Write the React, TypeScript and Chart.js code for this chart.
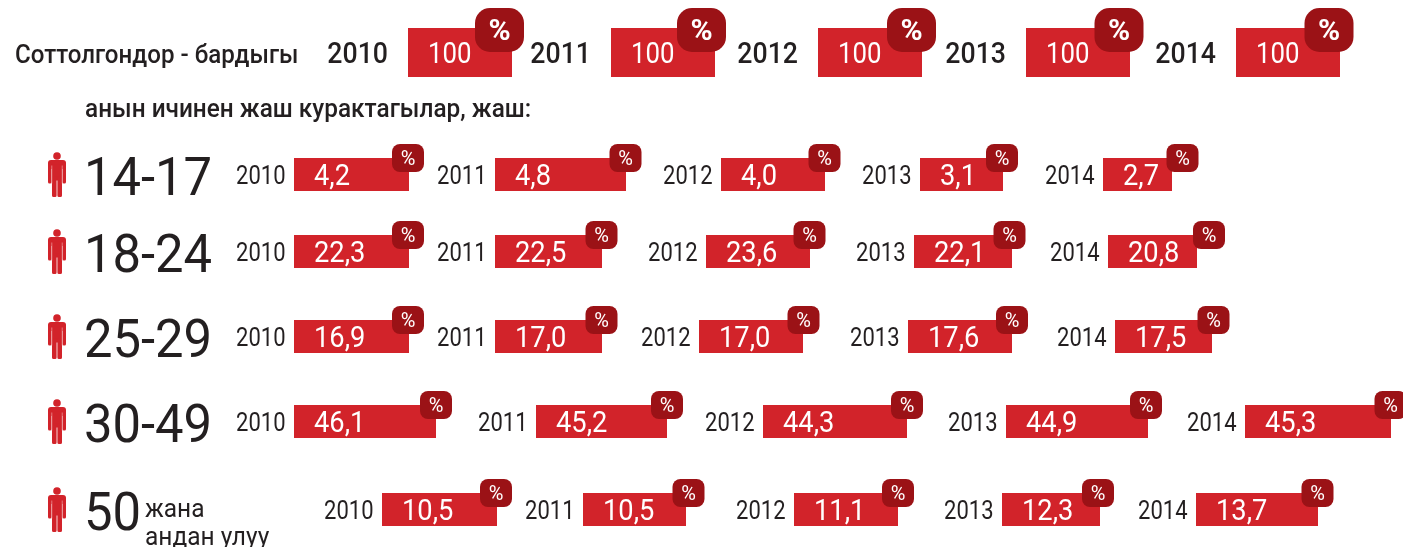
import React, { useEffect, useRef } from "react";
import { Chart, registerables } from "chart.js";

Chart.register(...registerables);

// ---- data ----
const years = ["2010", "2011", "2012", "2013", "2014"];
const totalValues = [100, 100, 100, 100, 100];
const age14to17 = [4.2, 4.8, 4.0, 3.1, 2.7];
const age18to24 = [22.3, 22.5, 23.6, 22.1, 20.8];
const age25to29 = [16.9, 17.0, 17.0, 17.6, 17.5];
const age30to49 = [46.1, 45.2, 44.3, 44.9, 45.3];
const age50plus = [10.5, 10.5, 11.1, 12.3, 13.7];
const ageLabels = ["14-17", "18-24", "25-29", "30-49", "50"];
const titleText = "Соттолгондор - бардыгы";
const subtitleText = "анын ичинен жаш курактагылар, жаш:";
const plusLines = ["жана", "андан улуу"];

// ---- extents of the drawn bars on the page-wide x axis (not proportional to value in the source) ----
const totalSpans = [[408, 512], [611, 715], [818, 922], [1026, 1130], [1236, 1340]];
const spans14to17 = [[294, 409], [495, 626], [721, 825], [920, 1003], [1103, 1172]];
const spans18to24 = [[294, 409], [495, 602], [706, 810], [914, 1012], [1108, 1197]];
const spans25to29 = [[294, 409], [495, 602], [699, 803], [908, 1012], [1115, 1212]];
const spans30to49 = [[294, 436], [536, 667], [763, 907], [1006, 1148], [1245, 1391]];
const spans50plus = [[382, 497], [583, 686], [794, 898], [1002, 1100], [1196, 1318]];

// ---- where each "%" badge is centred on the same axis ----
const totalBadges = [499.5, 701.5, 911.5, 1119, 1329];
const badges14to17 = [408, 625.5, 824.5, 1002, 1182.5];
const badges18to24 = [408, 601.5, 809.5, 1009.5, 1209];
const badges25to29 = [408, 601.5, 803.5, 1012, 1213.5];
const badges30to49 = [436, 667, 907, 1146, 1390.5];
const badges50plus = [496, 688.5, 898, 1098, 1317.5];

const rowCentres = [174.5, 251.5, 336.5, 421.5, 509.5];
const totalCentre = 52.5;

const RED = "#d2232a";
const DARK = "#9b1216";
const INK = "#231f20";
const FONT = "Roboto, sans-serif";

const rows = [
  { values: age14to17, spans: spans14to17, badges: badges14to17 },
  { values: age18to24, spans: spans18to24, badges: badges18to24 },
  { values: age25to29, spans: spans25to29, badges: badges25to29 },
  { values: age30to49, spans: spans30to49, badges: badges30to49 },
  { values: age50plus, spans: spans50plus, badges: badges50plus },
];

const fmt = (v: number) => v.toFixed(1).replace(".", ",");

function drawPerson(ctx: CanvasRenderingContext2D, cx: number, cy: number) {
  ctx.save();
  ctx.fillStyle = RED;
  ctx.beginPath();
  ctx.arc(cx, cy - 18.5, 3.8, 0, Math.PI * 2);
  ctx.fill();
  ctx.beginPath();
  ctx.roundRect(cx - 9, cy - 14.5, 18, 9, 3);
  ctx.fill();
  ctx.beginPath();
  ctx.roundRect(cx - 9, cy - 12, 3.5, 21, 1.5);
  ctx.roundRect(cx + 5.5, cy - 12, 3.5, 21, 1.5);
  ctx.fill();
  ctx.fillRect(cx - 5, cy - 10, 10, 16);
  ctx.beginPath();
  ctx.roundRect(cx - 5, cy + 2, 4.6, 20.5, 1.5);
  ctx.roundRect(cx + 0.4, cy + 2, 4.6, 20.5, 1.5);
  ctx.fill();
  ctx.fillStyle = "#ee9ea0";
  ctx.fillRect(cx - 5.5, cy - 9, 0.7, 18);
  ctx.fillRect(cx + 4.8, cy - 9, 0.7, 18);
  ctx.restore();
}

const textPlugin = {
  id: "infographicText",
  afterDatasetsDraw(chart: any) {
    const { ctx, scales } = chart;
    const X = (v: number) => scales.x.getPixelForValue(v);
    const Y = (v: number) => scales.y.getPixelForValue(v);
    // squeeze narrows the type horizontally: the source face is narrower than the installed ones
    const put = (
      t: string,
      x: number,
      y: number,
      font: string,
      color: string,
      align: CanvasTextAlign = "left",
      squeeze = 1
    ) => {
      ctx.save();
      ctx.translate(x, y);
      ctx.scale(squeeze, 1);
      ctx.font = font;
      ctx.fillStyle = color;
      ctx.textAlign = align;
      ctx.textBaseline = "middle";
      ctx.fillText(t, 0, 0);
      ctx.restore();
    };
    put(titleText, X(15), Y(57), `500 25px ${FONT}`, INK, "left", 0.965);
    put(subtitleText, X(85), Y(111), `500 25px ${FONT}`, INK, "left", 0.975);

    totalSpans.forEach(([s], i) => {
      put(years[i], X(s - 20), Y(totalCentre + 3), `500 30px ${FONT}`, INK, "right", 0.89);
      put(String(totalValues[i]), X(s + 20), Y(totalCentre + 3), `400 30px ${FONT}`, "#ffffff", "left", 0.86);
      put("%", X(totalBadges[i]), Y(totalCentre - 20), `700 30px ${FONT}`, "#ffffff", "center");
    });

    rows.forEach((row, r) => {
      const c = rowCentres[r];
      row.spans.forEach(([s], i) => {
        put(years[i], X(s - 8.5), Y(c + 3), `400 25px ${FONT}`, INK, "right", 0.88);
        put(fmt(row.values[i]), X(s + 20), Y(c + 3.5), `400 29px ${FONT}`, "#ffffff", "left", 0.94);
        put("%", X(row.badges[i]), Y(c - 15), `400 20px ${FONT}`, "#ffffff", "center");
      });
      drawPerson(ctx, X(57), Y(c));
      put(ageLabels[r], X(84), Y(c + 7), `400 54px ${FONT}`, INK, "left", 0.94);
    });
    put(plusLines[0], X(145), Y(511), `400 25px ${FONT}`, INK, "left", 0.98);
    put(plusLines[1], X(145), Y(538.5), `400 25px ${FONT}`, INK, "left", 0.98);
  },
};

export default function App() {
  const ref = useRef<HTMLCanvasElement>(null);
  useEffect(() => {
    if (!ref.current) return;
    const badge = (thickness: number, radius: number, half: number, centres: number[], y: number) => ({
      type: "bar" as const,
      data: centres.map((m) => ({ x: [m - half, m + half], y })),
      backgroundColor: DARK,
      barThickness: thickness,
      borderRadius: radius,
      borderSkipped: false,
      inflateAmount: 0,
    });
    const bar = (thickness: number, spans: number[][], y: number) => ({
      type: "bar" as const,
      data: spans.map(([s, e]) => ({ x: [s, e], y })),
      backgroundColor: RED,
      barThickness: thickness,
      inflateAmount: 0,
    });
    const datasets: any[] = [
      badge(44, 15, 24.5, totalBadges, totalCentre - 22.5),
      ...rows.map((row, r) => badge(28, 8, 16, row.badges, rowCentres[r] - 16.5)),
      bar(49, totalSpans, totalCentre),
      ...rows.map((row, r) => bar(33, row.spans, rowCentres[r])),
    ];
    const chart = new Chart(ref.current, {
      type: "bar",
      data: { datasets },
      plugins: [textPlugin],
      options: {
        indexAxis: "y",
        animation: false,
        responsive: false,
        maintainAspectRatio: false,
        layout: { padding: 0 },
        datasets: { bar: { grouped: false } },
        plugins: { legend: { display: false }, tooltip: { enabled: false }, title: { display: false } },
        scales: {
          x: { type: "linear", min: 0, max: 1403, display: false },
          y: { type: "linear", min: 0, max: 547, reverse: true, display: false, offset: false },
        },
      },
    } as any);
    return () => chart.destroy();
  }, []);
  return (
    <div style={{ position: "fixed", left: 0, top: 0, width: 1403, height: 547, background: "#fff" }}>
      <canvas ref={ref} width={1403} height={547} style={{ display: "block" }} />
    </div>
  );
}
